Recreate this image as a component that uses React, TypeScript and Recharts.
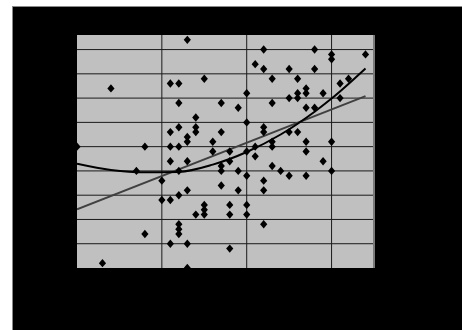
import React from 'react';
import { ComposedChart, Scatter, Line, XAxis, YAxis, CartesianGrid, ReferenceLine } from 'recharts';

// scatter points (x, y pairs in the same order)
const pointX = [
  4, 11, 11, 0, 8, 11, 11, 7, 10, 10,
  11, 8, 11, 3, 13, 22, 21, 22, 12, 15,
  23, 20, 12, 17, 19, 23, 14, 20, 12, 14,
  14, 17, 13, 13, 22, 22, 16, 12, 16, 18,
  20, 21, 21, 23, 23, 13, 18, 17, 17, 12,
  19, 20, 23, 22, 17, 12, 13, 19, 22, 15,
  15, 15, 14, 18, 18, 20, 20, 22, 12, 12,
  12, 13, 18, 13, 28, 30, 30, 34, 25, 28,
  26, 31, 32, 27, 27, 26, 29, 25, 26, 31,
  27, 28, 25, 26, 27, 30, 27, 29, 24, 25,
  27, 30,
];
const pointY = [
  37, 38, 28, 25, 25, 25, 22, 20, 18, 14,
  14, 7, 5, 1, 47, 45, 42, 41, 38, 39,
  39, 36, 34, 34, 33, 34, 31, 30, 29, 29,
  28, 28, 27, 26, 29, 28, 26, 25, 24, 24,
  24, 25, 23, 26, 25, 22, 22, 21, 20, 20,
  20, 19, 21, 18, 17, 15, 16, 16, 16, 13,
  12, 11, 11, 13, 11, 13, 11, 9, 9, 8,
  7, 5, 4, 0, 45, 44, 43, 44, 41, 41,
  39, 38, 39, 37, 36, 36, 36, 35, 35, 35,
  33, 33, 28, 28, 26, 26, 24, 22, 20, 19,
  19, 20,
];

// trend lines
const linearX = [0, 34];
const linearY = [12.1, 35.4];
const curveX = [0, 4, 8, 12, 16, 20, 24, 28, 30, 34];
const curveY = [21.5, 20.2, 19.7, 19.8, 21.3, 23.9, 27.5, 32.2, 34.9, 41.1];

const xTicks = [10, 20, 30];
const yTicks = [5, 10, 15, 20, 25, 30, 35, 40, 45];

const points = pointX.map((x, i) => ({ x, y: pointY[i] }));
const linear = linearX.map((x, i) => ({ x, y: linearY[i] }));
const curve = curveX.map((x, i) => ({ x, y: curveY[i] }));

const Diamond = (props: any) => {
  const { cx, cy } = props;
  if (cx == null || cy == null) return null;
  return (
    <path
      d={`M${cx},${cy - 4.2}L${cx + 3.6},${cy}L${cx},${cy + 4.2}L${cx - 3.6},${cy}Z`}
      fill="#000"
    />
  );
};

export default function App() {
  return (
    <div
      style={{
        position: 'fixed',
        left: 12,
        top: 6,
        width: 460,
        height: 340,
        background: '#000',
        border: '1px solid #8a8a8a',
      }}
    >
      <ComposedChart
        width={450}
        height={324}
        margin={{ top: 28, right: 89, bottom: 63, left: 64 }}
      >
        <CartesianGrid fill="#c0c0c0" horizontal={false} vertical={false} />
        <XAxis
          type="number"
          dataKey="x"
          domain={[0, 35]}
          ticks={xTicks}
          tick={false}
          tickLine={false}
          axisLine={false}
          height={0}
          allowDataOverflow
        />
        <YAxis
          type="number"
          dataKey="y"
          domain={[0, 48]}
          ticks={yTicks}
          tick={false}
          tickLine={false}
          axisLine={false}
          width={0}
          allowDataOverflow
        />
        {yTicks.map((v) => (
          <ReferenceLine key={`h${v}`} y={v} stroke="#1a1a1a" strokeWidth={1} />
        ))}
        {xTicks.map((v) => (
          <ReferenceLine key={`v${v}`} x={v} stroke="#1a1a1a" strokeWidth={1} />
        ))}
        <ReferenceLine x={35} stroke="#7a7a7a" strokeWidth={2} />
        <Scatter data={points} shape={<Diamond />} isAnimationActive={false} />
        <Line
          data={linear}
          dataKey="y"
          type="linear"
          stroke="#404040"
          strokeWidth={2}
          dot={false}
          isAnimationActive={false}
        />
        <Line
          data={curve}
          dataKey="y"
          type="monotone"
          stroke="#000"
          strokeWidth={2}
          dot={false}
          isAnimationActive={false}
        />
      </ComposedChart>
    </div>
  );
}
